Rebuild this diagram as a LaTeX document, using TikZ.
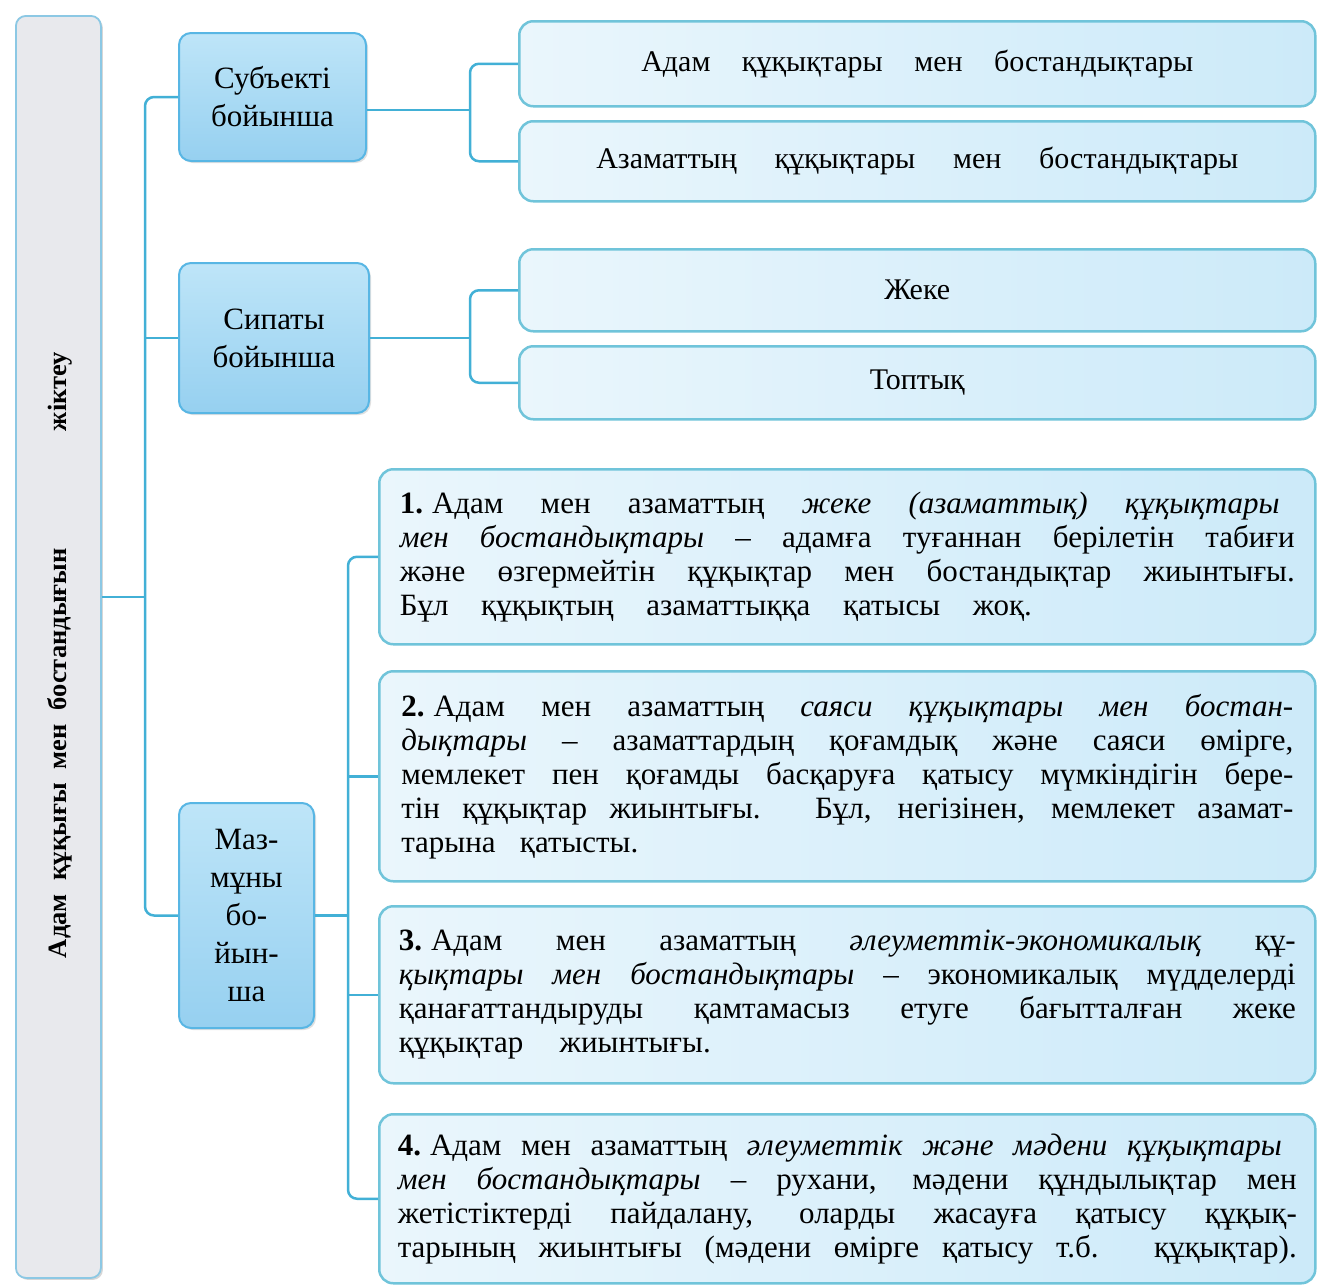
\documentclass[tikz,border=0pt]{standalone}
\usepackage{fontspec}
\setmainfont{Liberation Serif}
\usetikzlibrary{shadows}
\definecolor{conncol}{RGB}{66,176,214}
\definecolor{cattop}{RGB}{190,229,248}
\definecolor{catbot}{RGB}{150,208,240}
\definecolor{catdraw}{RGB}{88,182,228}
\definecolor{pleft}{RGB}{234,246,252}
\definecolor{pright}{RGB}{204,234,249}
\definecolor{pdraw}{RGB}{112,196,218}
\definecolor{rootfill}{RGB}{232,233,237}
\definecolor{rootdraw}{RGB}{140,200,228}
\newcommand\jl[2]{\makebox[#1pt][s]{#2}}
\newcommand\num[1]{\textbf{#1}\hspace{9pt}}
\begin{document}
\begin{tikzpicture}[x=1pt,y=-1pt,
  conn/.style={draw=conncol,line width=2.5pt,rounded corners=9},
  rootbox/.style={draw=rootdraw,line width=1.8pt,fill=rootfill,rounded corners=10,
    drop shadow={shadow xshift=2pt,shadow yshift=-2pt,opacity=0.35,fill=black!45}},
  catbox/.style={draw=catdraw,line width=2pt,rounded corners=12,top color=cattop,bottom color=catbot,
    align=center,inner sep=0pt,font=\fontsize{31}{38}\selectfont,
    drop shadow={shadow xshift=2pt,shadow yshift=-2pt,opacity=0.3,fill=black!40}},
  topbox/.style={draw=pdraw,line width=2.5pt,rounded corners=14,left color=pleft,right color=pright,
    minimum width=796,inner sep=0pt,font=\fontsize{30}{34}\selectfont},
  pbox/.style={draw=pdraw,line width=2.5pt,rounded corners=14,left color=pleft,right color=pright,
    minimum width=936,align=left,inner sep=0pt,font=\fontsize{31}{34}\selectfont}
]
\useasboundingbox[fill=white] (0,0) rectangle (1317,1285);

% root
\node[rootbox,minimum width=85,minimum height=1262,anchor=north west] (root) at (15,15) {};
\node[rotate=90,font=\bfseries\fontsize{26.5}{32}\selectfont] (roottxt) at (60,655)
  {\jl{410}{Адам құқығы мен бостандығын}\hspace{117pt}жіктеу};

% categories
\node[catbox,minimum width=187,minimum height=128,anchor=north west] (s) at (178,32) {Субъекті\\бойынша};
\node[catbox,minimum width=190,minimum height=150,anchor=north west] (c) at (178,262) {Сипаты\\бойынша};
\node[catbox,minimum width=135,minimum height=225,anchor=north west] (m) at (178,802) {Маз-\\мұны\\бо-\\йын-\\ша};

% top boxes
\node[topbox,minimum height=85,anchor=north west] (a1) at (518,20) {\jl{552}{Адам  құқықтары  мен  бостандықтары}};
\node[topbox,minimum height=80,anchor=north west] (a2) at (518,120) {\jl{642}{Азаматтың  құқықтары  мен  бостандықтары}};
\node[topbox,minimum height=82,anchor=north west] (j1) at (518,248) {Жеке};
\node[topbox,minimum height=73,anchor=north west] (j2) at (518,345) {Топтық};

% paragraph boxes
\node[pbox,minimum height=175,anchor=north west] (p1) at (378,468) {%
\jl{880}{\num{1.}Адам мен азаматтың \textit{жеке (азаматтық) құқықтары}}\\
\jl{895}{\textit{мен бостандықтары} – адамға туғаннан берілетін табиғи}\\
\jl{895}{және өзгермейтін құқықтар мен бостандықтар жиынтығы.}\\
\jl{632}{Бұл құқықтың азаматтыққа қатысы жоқ.}};

\node[pbox,minimum height=210,anchor=north west] (p2) at (378,670) {%
\jl{892}{\num{2.}Адам мен азаматтың \textit{саяси құқықтары мен бостан-}}\\
\jl{892}{\textit{дықтары} – азаматтардың қоғамдық және саяси өмірге,}\\
\jl{892}{мемлекет пен қоғамды басқаруға қатысу мүмкіндігін бере-}\\
\jl{892}{тін құқықтар жиынтығы. Бұл, негізінен, мемлекет азамат-}\\
\jl{237}{тарына қатысты.}};

\node[pbox,minimum height=177,anchor=north west] (p3) at (378,905) {%
\jl{897}{\num{3.}Адам мен азаматтың \textit{әлеуметтік-экономикалық} құ-}\\
\jl{897}{\textit{қықтары мен бостандықтары} – экономикалық мүдделерді}\\
\jl{897}{қанағаттандыруды қамтамасыз етуге бағытталған жеке}\\
\jl{312}{құқықтар жиынтығы.}};

\node[pbox,minimum height=169,anchor=north west] (p4) at (378,1113) {%
\jl{884}{\num{4.}Адам мен азаматтың \textit{әлеуметтік және мәдени құқықтары}}\\
\jl{899}{\textit{мен бостандықтары} – рухани, мәдени құндылықтар мен}\\
\jl{899}{жетістіктерді пайдалану, оларды жасауға қатысу құқық-}\\
\jl{899}{тарының жиынтығы (мәдени өмірге қатысу т.б. құқықтар).}};

% junction coordinates
\coordinate (lt) at (145,600);
\coordinate (rj) at (145,597);
\coordinate (sj) at (470,110);
\coordinate (cj) at (470,338);
\coordinate (mt) at (348,900);

% connectors
\draw[conn] (rj -| root.east) -- (rj);
\draw[conn] (s.west) -| (lt) |- (m.west);
\draw[conn] (lt |- c.west) -- (c.west);
\draw[conn] (sj -| s.east) -- (sj);
\draw[conn] (a1.west) -| (sj) |- (a2.west);
\draw[conn] (cj -| c.east) -- (cj);
\draw[conn] (j1.west) -| (cj) |- (j2.west);
\draw[conn] (m.east) -- (m.east -| mt);
\draw[conn] (p1.west) -| (mt) |- (p4.west);
\draw[conn] (mt |- p2.west) -- (p2.west);
\draw[conn] (mt |- p3.west) -- (p3.west);
\end{tikzpicture}
\end{document}
